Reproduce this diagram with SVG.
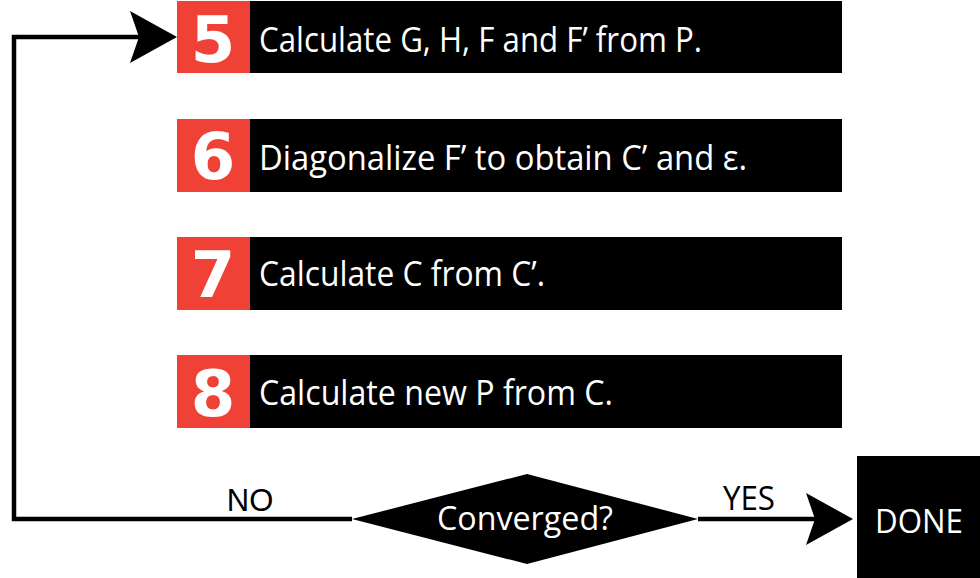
<svg xmlns="http://www.w3.org/2000/svg" width="980" height="578" viewBox="0 0 980 578">
<defs>
<style>
.bar{fill:#000}
.num{fill:#EF4136}
.digit{fill:#fff;font-family:"DejaVu Sans",sans-serif;font-weight:bold;font-size:64px;text-anchor:middle}
.lbl{fill:#fff;font-family:"Open Sans",sans-serif;font-size:34px}
.edge{fill:none;stroke:#000;stroke-width:4.5}
.elbl{fill:#000;font-family:"Liberation Sans",sans-serif;font-size:31px;text-anchor:middle}
.wlbl{fill:#fff;font-family:"Open Sans",sans-serif;font-size:32px;text-anchor:middle}
</style>
<marker id="arr" markerUnits="userSpaceOnUse" markerWidth="48" markerHeight="52" refX="9" refY="26" orient="auto" viewBox="0 0 48 52">
<path d="M0,0 L47,26 L0,52 L9,26 Z" fill="#000"/>
</marker>
</defs>
<g id="connectors">
<path class="edge" d="M352,519 H14 V37 H139" marker-end="url(#arr)"/>
<path class="edge" d="M698,519 H815" marker-end="url(#arr)"/>
<text class="elbl" x="250" y="511">NO</text>
<text class="wlbl" x="749" y="510" style="fill:#000" textLength="52" lengthAdjust="spacingAndGlyphs">YES</text>
</g>
<g id="step5">
<rect class="bar" x="177" y="1" width="665" height="72"/>
<rect class="num" x="177" y="1" width="73" height="72"/>
<text class="digit" x="213" y="62">5</text>
<text class="lbl" x="259" y="52" textLength="443" lengthAdjust="spacingAndGlyphs">Calculate G, H, F and F’ from P.</text>
</g>
<g id="step6">
<rect class="bar" x="177" y="119" width="665" height="73"/>
<rect class="num" x="177" y="119" width="73" height="73"/>
<text class="digit" x="213" y="179">6</text>
<text class="lbl" x="259" y="170" textLength="488" lengthAdjust="spacingAndGlyphs">Diagonalize F’ to obtain C’ and ε.</text>
</g>
<g id="step7">
<rect class="bar" x="177" y="237" width="665" height="73"/>
<rect class="num" x="177" y="237" width="73" height="73"/>
<text class="digit" x="213" y="297">7</text>
<text class="lbl" x="259" y="286" textLength="286" lengthAdjust="spacingAndGlyphs">Calculate C from C’.</text>
</g>
<g id="step8">
<rect class="bar" x="177" y="355" width="665" height="73"/>
<rect class="num" x="177" y="355" width="73" height="73"/>
<text class="digit" x="213" y="416">8</text>
<text class="lbl" x="259" y="405" textLength="354" lengthAdjust="spacingAndGlyphs">Calculate new P from C.</text>
</g>
<g id="decision">
<polygon points="352,519 527,474 698,519 527,564" fill="#000"/>
<text class="wlbl" x="525" y="530" textLength="176" lengthAdjust="spacingAndGlyphs">Converged?</text>
</g>
<g id="done">
<rect x="857" y="456" width="123" height="122" fill="#000"/>
<text class="wlbl" x="919" y="533" textLength="88" lengthAdjust="spacingAndGlyphs">DONE</text>
</g>
</svg>
